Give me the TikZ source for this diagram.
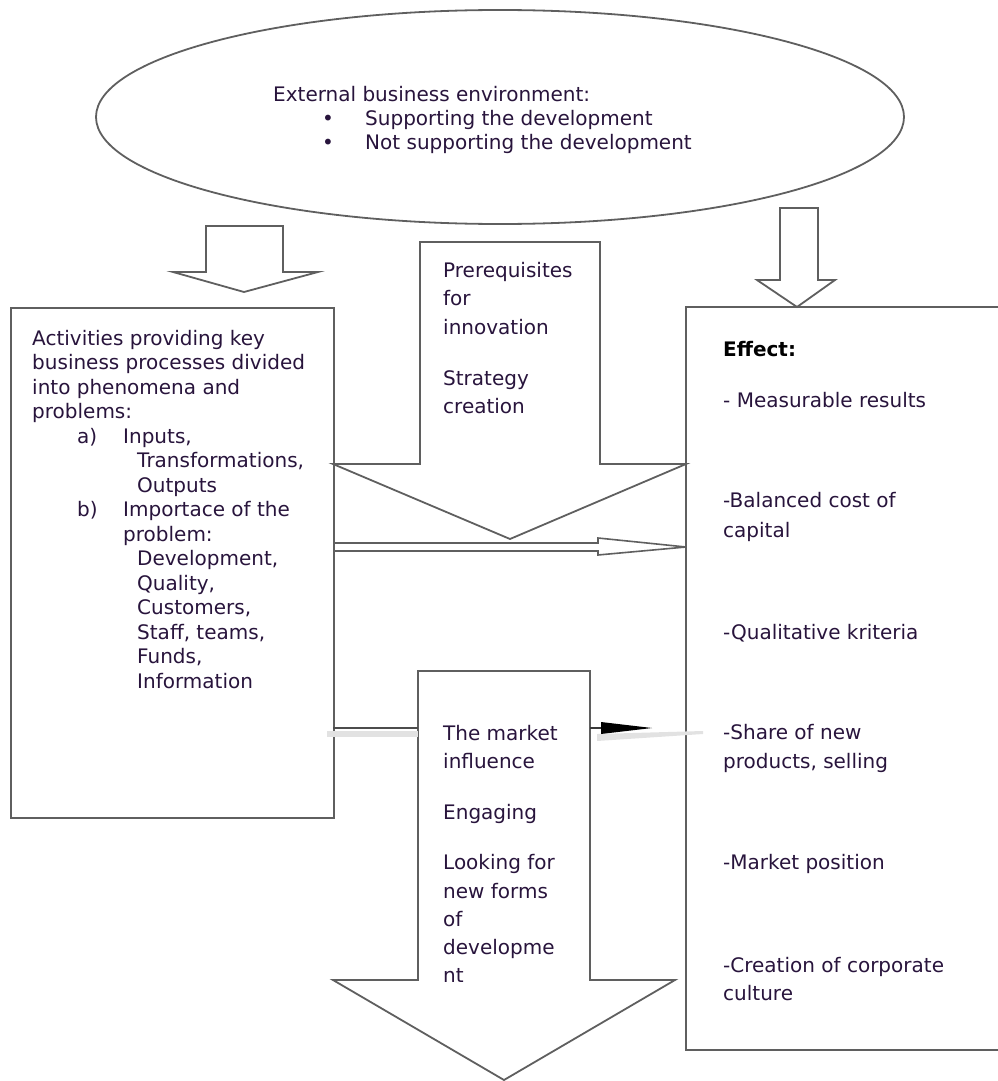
\documentclass[tikz,border=0pt]{standalone}
\usepackage{fontspec}
\setmainfont{DejaVu Sans}
\usetikzlibrary{shapes.geometric}
\definecolor{edge}{RGB}{95,95,95}
\definecolor{ink}{RGB}{40,20,60}
\definecolor{haze}{RGB}{226,226,226}
\begin{document}
\begin{tikzpicture}[x=1pt,y=-1pt,
  outline/.style={draw=edge, line width=1.8pt, line join=miter},
  txt/.style={anchor=base west, inner sep=0pt, text=ink,
    font=\fontsize{20pt}{24pt}\selectfont},
  boldtxt/.style={txt, text=black, font=\fontsize{20pt}{24pt}\selectfont\bfseries}]
\useasboundingbox (0,0) rectangle (998,1081);

% external environment
\node (env) [outline, ellipse, minimum width=808pt, minimum height=214pt, inner sep=0pt] at (500,117) {};
\node (envt) [txt] at (273,101) {External business environment:};
\node (b1) [txt] at (322,125) {•};
\node (e1) [txt] at (365,125) {Supporting the development};
\node (b2) [txt] at (322,149) {•};
\node (e2) [txt] at (365,149) {Not supporting the development};

% arrows coming down from the environment
\draw[outline] (206,226) -- (283,226) -- (283,272) -- (318,272) -- (244,292)
  -- (173,272) -- (206,272) -- cycle;
\draw[outline] (780,208) -- (818,208) -- (818,280) -- (835,280) -- (797,307)
  -- (757,280) -- (780,280) -- cycle;

% left box: activities
\node (act) [outline, anchor=north west, minimum width=323pt, minimum height=510pt, inner sep=0pt] at (10,307) {};
\node (a1) [txt] at (32,345) {Activities providing key};
\node (a2) [txt] at (32,369.5) {business processes divided};
\node (a3) [txt] at (32,394) {into phenomena and};
\node (a4) [txt] at (32,418.5) {problems:};
\node (a5) [txt] at (77,443) {a)};
\node (a6) [txt] at (123,443) {Inputs,};
\node (a7) [txt] at (137,467.5) {Transformations,};
\node (a8) [txt] at (137,492) {Outputs};
\node (a9) [txt] at (77,516.5) {b)};
\node (a10) [txt] at (123,516.5) {Importace of the};
\node (a11) [txt] at (123,541) {problem:};
\node (a12) [txt] at (137,565.5) {Development,};
\node (a13) [txt] at (137,590) {Quality,};
\node (a14) [txt] at (137,614.5) {Customers,};
\node (a15) [txt] at (137,639) {Staff, teams,};
\node (a16) [txt] at (137,663.5) {Funds,};
\node (a17) [txt] at (137,688) {Information};

% right box: effect
\draw[outline] (999,307) -- (686,307) -- (686,1050) -- (999,1050);
\coordinate (eff) at (686,547);
\node (f0) [boldtxt] at (723,356) {Effect:};
\node (f1) [txt] at (723,407) {- Measurable results};
\node (f2) [txt] at (723,507) {-Balanced cost of};
\node (f3) [txt] at (723,537) {capital};
\node (f4) [txt] at (723,639) {-Qualitative kriteria};
\node (f5) [txt] at (723,739) {-Share of new};
\node (f6) [txt] at (723,768) {products, selling};
\node (f7) [txt] at (723,869) {-Market position};
\node (f8) [txt] at (723,972) {-Creation of corporate};
\node (f9) [txt] at (723,1000) {culture};

% central arrow: prerequisites and strategy
\draw[outline] (420,242) -- (600,242) -- (600,464) -- (686,464) -- (510,539)
  -- (333,464) -- (420,464) -- cycle;
\node (p1) [txt] at (443,277) {Prerequisites};
\node (p2) [txt] at (443,305) {for};
\node (p3) [txt] at (443,334) {innovation};
\node (p4) [txt] at (443,385) {Strategy};
\node (p5) [txt] at (443,413) {creation};

% block arrow from activities to effect
\draw[outline, line width=1.6pt] (333,543) -- (598,543) -- (598,538) -- (eff)
  -- (598,555) -- (598,551) -- (333,551);

% lower arrow: market influence
\draw[outline] (418,671) -- (590,671) -- (590,980) -- (675,980) -- (504,1080)
  -- (333,980) -- (418,980) -- cycle;
\node (m1) [txt] at (443,740) {The market};
\node (m2) [txt] at (443,768) {influence};
\node (m3) [txt] at (443,819) {Engaging};
\node (m4) [txt] at (443,869) {Looking for};
\node (m5) [txt] at (443,898) {new forms};
\node (m6) [txt] at (443,926) {of};
\node (m7) [txt] at (443,954) {developme};
\node (m8) [txt] at (443,982) {nt};

% connector from activities into the market arrow
\coordinate (ml) at (333,728);
\coordinate (mr) at (418,728);
\fill[haze] (327,731) rectangle (418,737);
\draw[edge!80!black, line width=1.8pt] (ml) -- (mr);

% connector from the market arrow towards effect
\coordinate (ms) at (590,728);
\coordinate (mt) at (652,728);
\fill[haze] (597,734) -- (703,731) -- (703,734) -- (597,741) -- cycle;
\draw[edge!60!black, line width=1.6pt] (ms) -- (604,728);
\fill[black] (601,722) -- (mt) -- (601,734) -- cycle;
\end{tikzpicture}
\end{document}
